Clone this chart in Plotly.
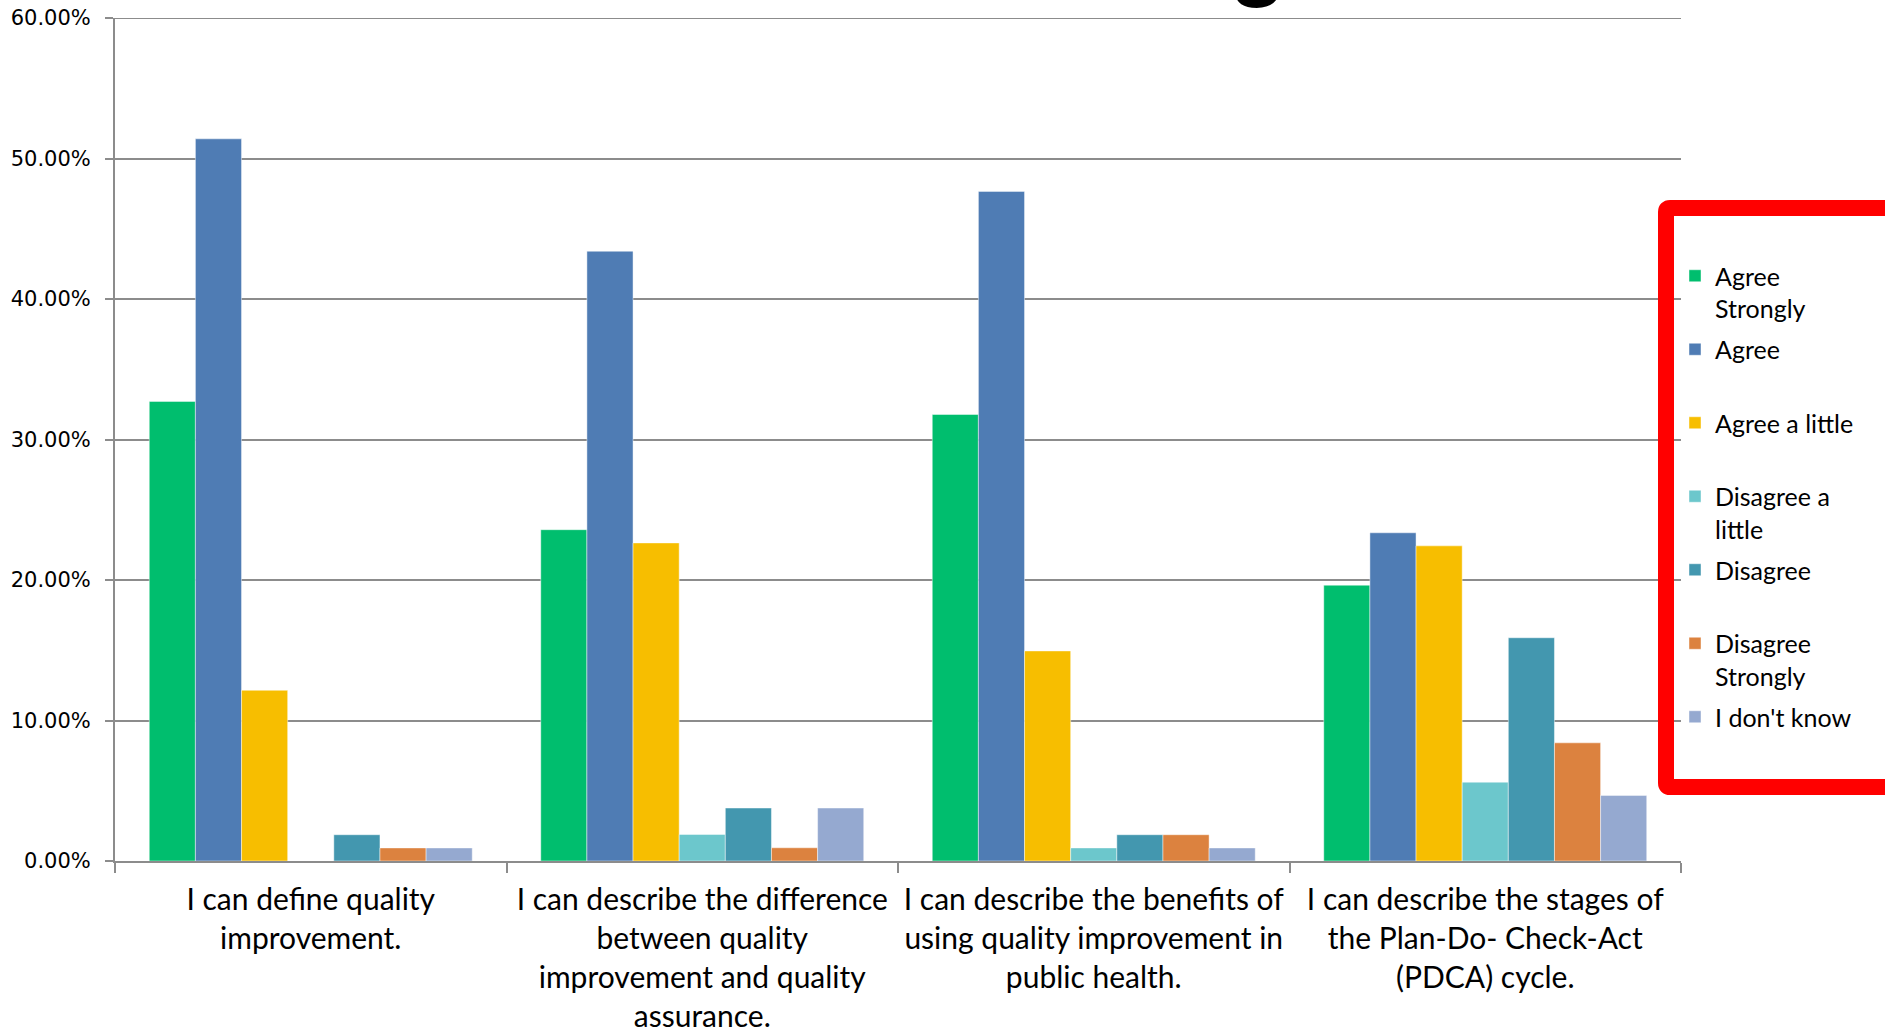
import plotly.graph_objects as go

# Survey statements (x categories)
categories = [
    "I can define quality<br>improvement.",
    "I can describe the difference<br>between quality<br>improvement and quality<br>assurance.",
    "I can describe the benefits of<br>using quality improvement in<br>public health.",
    "I can describe the stages of<br>the Plan-Do- Check-Act<br>(PDCA) cycle.",
]

# Response shares per statement (fractions of respondents)
agree_strongly = [0.3271, 0.2358, 0.3178, 0.1963]
agree = [0.5140, 0.4340, 0.4766, 0.2336]
agree_a_little = [0.1215, 0.2264, 0.1495, 0.2243]
disagree_a_little = [0.0, 0.0189, 0.0093, 0.0561]
disagree = [0.0187, 0.0377, 0.0187, 0.1589]
disagree_strongly = [0.0093, 0.0094, 0.0187, 0.0841]
dont_know = [0.0093, 0.0377, 0.0093, 0.0467]

series_names = ["Agree<br>Strongly", "Agree<br> ", "Agree a little<br> ", "Disagree a<br>little",
                "Disagree<br> ", "Disagree<br>Strongly", "I don't know<br> "]
series_values = [agree_strongly, agree, agree_a_little, disagree_a_little,
                 disagree, disagree_strongly, dont_know]
series_colors = ["#00BE6E", "#4F7CB4", "#F7BE00", "#6CC7CC", "#4397AF", "#DC823F", "#95A9D0"]

y_ticks = [0, 0.1, 0.2, 0.3, 0.4, 0.5, 0.6]
y_max = 0.6

W, H = 1885, 1031
ML, MR, MT, MB = 115, 204, 18, 170
PW, PH = W - ML - MR, H - MT - MB


def px_x(p):
    return (p - ML) / PW


def px_y(p):
    return 1 - (p - MT) / PH


fig = go.Figure()
for i, (name, vals, col) in enumerate(zip(series_names, series_values, series_colors)):
    fig.add_trace(go.Bar(
        x=categories, y=vals, name=name,
        marker=dict(color=col, line=dict(color="rgba(255,255,255,0.45)", width=1)),
        legendgroup=f"g{i}",
        hovertemplate="%{y:.2%}<extra></extra>",
    ))

# Red frame around the legend
x0, x1 = px_x(1666), px_x(1890)
y0, y1 = px_y(208), px_y(787)
rx, ry = 4 / PW, 4 / PH
frame = (f"M {x1},{y0} L {x0 + rx},{y0} Q {x0},{y0} {x0},{y0 - ry} "
         f"L {x0},{y1 + ry} Q {x0},{y1} {x0 + rx},{y1} L {x1},{y1}")

fig.update_layout(
    width=W, height=H,
    margin=dict(l=ML, r=MR, t=MT, b=MB, autoexpand=False),
    paper_bgcolor="white", plot_bgcolor="white",
    barmode="group", bargap=0.175, bargroupgap=0,
    font=dict(family="Lato", color="black"),
    showlegend=True,
    legend=dict(
        x=px_x(1675), xanchor="left", y=px_y(253), yanchor="top",
        font=dict(family="Lato", size=25, color="black"),
        valign="top", tracegroupgap=5.5, bgcolor="rgba(0,0,0,0)",
        itemclick=False, itemdoubleclick=False,
    ),
    shapes=[
        # gridline at the top of the value range
        dict(type="line", xref="paper", yref="y", x0=-8 / PW, x1=1, y0=y_max, y1=y_max,
             line=dict(color="#8C8C8C", width=2), layer="below"),
        dict(type="path", xref="paper", yref="paper", path=frame,
             line=dict(color="#FF0000", width=16), layer="above"),
    ],
    annotations=[dict(text="<b>g</b>", x=px_x(1258), y=px_y(12), xref="paper", yref="paper",
                      xanchor="center", yanchor="bottom", showarrow=False,
                      font=dict(family="Lato", size=90, color="black"))],
)

fig.update_yaxes(
    range=[0, y_max], tickvals=y_ticks, tickformat=".2%",
    showgrid=True, gridcolor="#8C8C8C", gridwidth=2,
    showline=True, linecolor="#8C8C8C", linewidth=2,
    ticks="outside", ticklen=8, tickcolor="#8C8C8C", tickwidth=2,
    ticklabelstandoff=10,
    tickfont=dict(family="DejaVu Sans", size=21, color="black"),
    zeroline=False, fixedrange=True,
)
fig.update_xaxes(
    showline=True, linecolor="#8C8C8C", linewidth=2,
    ticks="outside", tickson="boundaries", ticklen=10, tickcolor="#8C8C8C", tickwidth=2,
    tickfont=dict(family="Lato", size=30, color="black"),
    ticklabelstandoff=11,
    fixedrange=True,
)

fig.write_html("out.html")
